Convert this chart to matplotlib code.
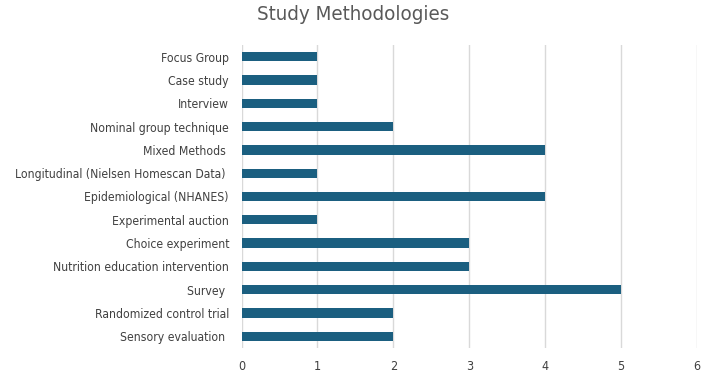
import matplotlib
matplotlib.use("Agg")
import matplotlib.pyplot as plt

categories = ["Focus Group", "Case study", "Interview", "Nominal group technique",
              "Mixed Methods ", "Longitudinal (Nielsen Homescan Data) ",
              "Epidemiological (NHANES)", "Experimental auction", "Choice experiment",
              "Nutrition education intervention", "Survey ", "Randomized control trial",
              "Sensory evaluation "]
values = [1, 1, 1, 2, 4, 1, 4, 1, 3, 3, 5, 2, 2]
xticks = [0, 1, 2, 3, 4, 5, 6]

plt.rcParams['font.family'] = ['DejaVu Sans']
plt.rcParams['font.stretch'] = 'condensed'

fig = plt.figure(figsize=(7.02, 3.76), dpi=100)
ax = fig.add_axes([241.5/702, 1-348/376, (697-241.5)/702, (348-45)/376])

pos = list(range(len(categories)))
ax.barh(pos, values, height=0.4, color="#1b5f80", zorder=3)
ax.set_ylim(len(categories)-0.5, -0.5)
ax.set_xlim(0, 6)
ax.set_xticks(xticks)
ax.set_yticks(pos)
ax.set_yticklabels(categories)
ax.grid(axis='x', color="#d9d9d9", linewidth=1, zorder=0)
for s in ax.spines.values():
    s.set_visible(False)
ax.tick_params(axis='both', length=0, labelsize=8.7, colors="#404040")
ax.tick_params(axis='x', labelsize=9, pad=8.5)
ax.tick_params(axis='y', pad=9)
fig.text(0.503, 1-14/376, "Study Methodologies", ha='center', va='center',
         fontsize=14.7, color="#595959")
fig.savefig("out.png", dpi=100)
